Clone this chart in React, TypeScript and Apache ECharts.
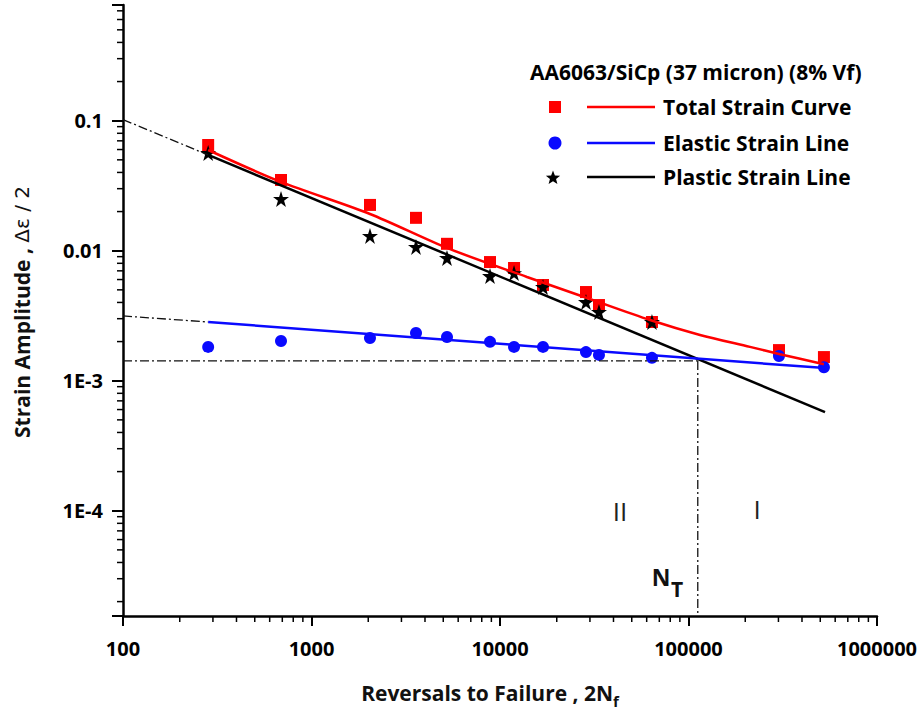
import React, { useEffect, useRef } from 'react';
import * as echarts from 'echarts';

// ---- axis ticks ----
const xTickValues = [100, 1000, 10000, 100000, 1000000];
const xTickLabels = ['100', '1000', '10000', '100000', '1000000'];
const yTickValues = [1e-4, 1e-3, 1e-2, 1e-1];
const yTickLabels = ['1E-4', '1E-3', '0.01', '0.1'];
const xMin = 100;
const xMax = 1000000;
const yMin = 1.55e-5;
const yMax = 0.776;

// ---- data ----
const reversals = [283, 689, 2043, 3584, 5233, 8851, 11870, 16910, 28590, 33500, 64000, 302000, 523000];
const totalStrain = [0.065, 0.035, 0.0225, 0.0179, 0.0113, 0.00818, 0.00736, 0.00545, 0.00481, 0.00382, 0.00283, 0.00172, 0.00152];
const elasticStrain = [0.00182, 0.00202, 0.00213, 0.00233, 0.00217, 0.00199, 0.00182, 0.00182, 0.00166, 0.00158, 0.0015, 0.00155, 0.00127];
const plasticStrain = [0.0565, 0.025, 0.013, 0.0107, 0.00879, 0.00639, 0.00673, 0.00526, 0.00403, 0.00338, 0.00283];

// fitted lines
const fitLife = [283, 530000];
const elasticFit = [0.00283, 0.00125];
const plasticFit = [0.0545, 0.000574];
const extLife = [100, 283];
const elasticExt = [0.00315, 0.00283];
const plasticExt = [0.102, 0.0545];
const transitionLife = 112000;
const transitionStrain = 0.00142;

// total strain curve
const totalCurveLife = [283, 689, 2043, 5233, 13900, 28960, 62500, 115100, 211900, 305700, 523000];
const totalCurveStrain = [0.0595, 0.0338, 0.01915, 0.0105, 0.00628, 0.00433, 0.00293, 0.00225, 0.00182, 0.0016, 0.00134];

const FONT = '"Open Sans", "DejaVu Sans", sans-serif';
const RED = '#ff0000';
const BLUE = '#0a0aff';

function minorTicks(lo: number, hi: number) {
  const out: number[] = [];
  for (let d = -6; d <= 6; d++) {
    for (let k = 2; k <= 9; k++) {
      const v = k * Math.pow(10, d);
      if (v > lo * 1.0001 && v < hi * 0.9999) out.push(v);
    }
  }
  return out;
}

function labelFor(values: number[], labels: string[]) {
  return (v: number) => {
    for (let i = 0; i < values.length; i++) {
      if (Math.abs(Math.log10(v) - Math.log10(values[i])) < 1e-6) return labels[i];
    }
    return '';
  };
}

function starPoints(cx: number, cy: number, R: number, r: number) {
  const pts: number[][] = [];
  for (let i = 0; i < 10; i++) {
    const a = -Math.PI / 2 + (i * Math.PI) / 5;
    const rad = i % 2 === 0 ? R : r;
    pts.push([cx + rad * Math.cos(a), cy + rad * Math.sin(a)]);
  }
  return pts;
}

const STAR = 'path://M50,0 L61.2,34.5 L97.6,34.5 L68.2,55.9 L79.4,90.5 L50,69.1 L20.6,90.5 L31.8,55.9 L2.4,34.5 L38.8,34.5 Z';
const DASHDOT = [9, 3, 2, 3];

function textStyle(font: string, align = 'left', fill = '#000') {
  return { font, fill, align, verticalAlign: 'middle', textAlign: align, textVerticalAlign: 'middle' };
}

function makeBaseGraphic(): any[] {
  return [
    { type: 'text', x: 530, y: 72, style: { text: 'AA6063/SiCp (37 micron) (8% Vf)', ...textStyle(`bold 21px ${FONT}`) } },
    { type: 'rect', shape: { x: 549, y: 101, width: 12, height: 12 }, style: { fill: RED } },
    { type: 'line', shape: { x1: 587, y1: 107, x2: 655, y2: 107 }, style: { stroke: RED, lineWidth: 2.5 } },
    { type: 'text', x: 663, y: 107, style: { text: 'Total Strain Curve', ...textStyle(`bold 21px ${FONT}`) } },
    { type: 'circle', shape: { cx: 555, cy: 143, r: 6.5 }, style: { fill: BLUE } },
    { type: 'line', shape: { x1: 587, y1: 143, x2: 655, y2: 143 }, style: { stroke: BLUE, lineWidth: 2.5 } },
    { type: 'text', x: 663, y: 143, style: { text: 'Elastic Strain Line', ...textStyle(`bold 21px ${FONT}`) } },
    { type: 'polygon', shape: { points: starPoints(553, 178, 7.5, 3.2) }, style: { fill: '#000' } },
    { type: 'line', shape: { x1: 587, y1: 177, x2: 655, y2: 177 }, style: { stroke: '#000', lineWidth: 2.5 } },
    { type: 'text', x: 663, y: 177, style: { text: 'Plastic Strain Line', ...textStyle(`bold 21px ${FONT}`) } },
    { type: 'text', x: 620, y: 511, style: { text: 'II', ...textStyle(`26px ${FONT}`, 'center', '#222') } },
    { type: 'text', x: 757, y: 509, style: { text: 'I', ...textStyle(`26px ${FONT}`, 'center', '#222') } },
    { type: 'text', x: 661, y: 577, style: { text: 'N', ...textStyle(`bold 23px ${FONT}`, 'center', '#111') } },
    { type: 'text', x: 677, y: 589, style: { text: 'T', ...textStyle(`bold 21px ${FONT}`, 'center', '#111') } },
    {
      type: 'text', x: 490, y: 693,
      style: {
        text: '{b|Reversals to Failure , 2N}{s|f}',
        align: 'center', verticalAlign: 'middle', textAlign: 'center', textVerticalAlign: 'middle',
        rich: {
          b: { font: `bold 21px ${FONT}`, fill: '#111', lineHeight: 30 },
          s: { font: `bold 15px ${FONT}`, fill: '#111', lineHeight: 30, verticalAlign: 'bottom' },
        },
      },
    },
    {
      type: 'text', x: 22, y: 312, rotation: Math.PI / 2,
      style: {
        text: '{b|Strain Amplitude , }{g|Δε / 2}',
        align: 'center', verticalAlign: 'middle', textAlign: 'center', textVerticalAlign: 'middle',
        rich: {
          b: { font: `bold 21px ${FONT}`, fill: '#111' },
          g: { font: `20px "DejaVu Sans", sans-serif`, fill: '#111' },
        },
      },
    },
  ];
}

export default function App() {
  const ref = useRef<HTMLDivElement>(null);
  useEffect(() => {
    const chart = echarts.init(ref.current!, null, { renderer: 'svg' });
    const pair = (xs: number[], ys: number[]) => xs.map((x, i) => [x, ys[i]]);
    const labelCommon = { color: '#000', fontSize: 20, fontWeight: 'bold', fontFamily: FONT };

    const option: any = {
      animation: false,
      backgroundColor: '#fff',
      grid: { left: 123, right: 47, top: 5, bottom: 99 },
      xAxis: {
        type: 'log',
        logBase: 10,
        min: xMin,
        max: xMax,
        splitLine: { show: false },
        axisLine: { show: true, onZero: false, lineStyle: { color: '#000', width: 2.5 } },
        axisTick: { show: true, length: 10, lineStyle: { color: '#000', width: 2 } },
        axisLabel: { ...labelCommon, formatter: labelFor(xTickValues, xTickLabels), margin: 22 },
      },
      yAxis: {
        type: 'log',
        logBase: 10,
        min: yMin,
        max: yMax,
        splitLine: { show: false },
        axisLine: { show: true, onZero: false, lineStyle: { color: '#000', width: 2.5 } },
        axisTick: { show: true, length: 11, lineStyle: { color: '#000', width: 2 } },
        axisLabel: { ...labelCommon, formatter: labelFor(yTickValues, yTickLabels), margin: 20 },
      },
      series: [
        { type: 'line', name: 'plasticExt', data: pair(extLife, plasticExt), symbol: 'none', lineStyle: { color: '#111', width: 1.3, type: DASHDOT } },
        { type: 'line', name: 'elasticExt', data: pair(extLife, elasticExt), symbol: 'none', lineStyle: { color: '#111', width: 1.3, type: DASHDOT } },
        {
          type: 'line', name: 'transitionH', data: [[xMin, transitionStrain], [transitionLife, transitionStrain]], symbol: 'none',
          lineStyle: { color: '#111', width: 1.3, type: DASHDOT },
        },
        {
          type: 'line', name: 'transitionV', data: [[transitionLife, transitionStrain], [transitionLife, yMin]], symbol: 'none',
          lineStyle: { color: '#111', width: 1.3, type: DASHDOT },
        },
        { type: 'line', name: 'Plastic Strain Line', data: pair(fitLife, plasticFit), symbol: 'none', lineStyle: { color: '#000', width: 2.5 } },
        { type: 'line', name: 'Elastic Strain Line', data: pair(fitLife, elasticFit), symbol: 'none', lineStyle: { color: BLUE, width: 2.5 } },
        {
          type: 'line', name: 'Total Strain Curve', data: pair(totalCurveLife, totalCurveStrain), symbol: 'none', smooth: 0.3,
          lineStyle: { color: RED, width: 2.5 },
        },
        { type: 'scatter', name: 'Total', data: pair(reversals, totalStrain), symbol: 'rect', symbolSize: 12, itemStyle: { color: RED, opacity: 1 } },
        { type: 'scatter', name: 'Elastic', data: pair(reversals, elasticStrain), symbol: 'circle', symbolSize: 12, itemStyle: { color: BLUE, opacity: 1 } },
        {
          type: 'scatter', name: 'Plastic', data: pair(reversals.slice(0, plasticStrain.length), plasticStrain), symbol: STAR, symbolSize: 16,
          itemStyle: { color: '#000', opacity: 1 },
        },
      ],
      graphic: makeBaseGraphic(),
    };
    chart.setOption(option);

    // minor tick marks, placed through the axes' own scales
    try {
      const ticks: any[] = [];
      const toPx = (x: number, y: number): any => chart.convertToPixel({ xAxisIndex: 0, yAxisIndex: 0 } as any, [x, y]);
      minorTicks(xMin, xMax).forEach((v) => {
        const p = toPx(v, yMin);
        if (p) ticks.push({ type: 'rect', shape: { x: p[0] - 0.75, y: p[1], width: 1.5, height: 6 }, style: { fill: '#000' } });
      });
      minorTicks(yMin, yMax).forEach((v) => {
        const p = toPx(xMin, v);
        if (p) ticks.push({ type: 'rect', shape: { x: p[0] - 6, y: p[1] - 0.75, width: 6, height: 1.5 }, style: { fill: '#000' } });
      });
      chart.setOption({ graphic: [...makeBaseGraphic(), ...ticks] });
    } catch (e) {
      // keep the chart as drawn
    }

    return () => chart.dispose();
  }, []);
  return <div ref={ref} style={{ position: 'fixed', left: 0, top: 0, width: 924, height: 715, background: '#fff' }} />;
}
